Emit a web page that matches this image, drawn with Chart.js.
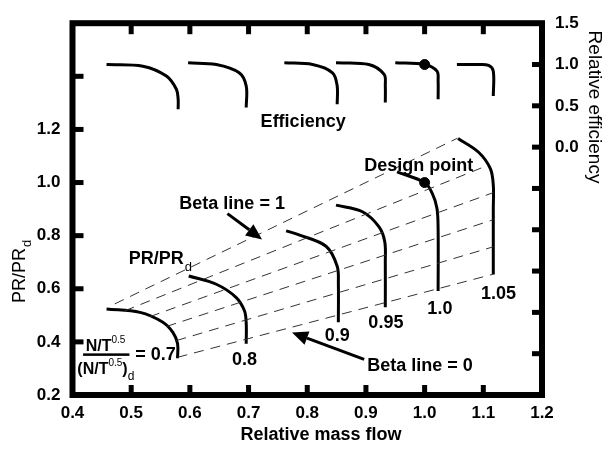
<!DOCTYPE html>
<html>
<head>
<meta charset="utf-8">
<script src="https://cdn.jsdelivr.net/npm/chart.js@4.4.0/dist/chart.umd.min.js"></script>
<style>
  html, body { margin: 0; padding: 0; background: #fff; }
  #wrap { width: 616px; height: 451px; }
</style>
</head>
<body>
<div id="wrap"><canvas id="map" width="616" height="451"></canvas></div>
<script>
// relative corrected speed of each speed line
const speedLabels = ["0.7", "0.8", "0.9", "0.95", "1.0", "1.05"];

// PR/PRd speed lines (x = relative mass flow)
const prFlow = [
  [0.458, 0.515, 0.554, 0.571, 0.579, 0.579],
  [0.598, 0.645, 0.679, 0.693, 0.696, 0.696],
  [0.764, 0.786, 0.832, 0.851, 0.853, 0.853],
  [0.849, 0.894, 0.922, 0.932, 0.933, 0.933],
  [0.953, 1.000, 1.013, 1.021, 1.023, 1.023],
  [1.057, 1.092, 1.112, 1.117, 1.117, 1.117],
];
const prRatio = [
  [0.524, 0.511, 0.474, 0.436, 0.394, 0.338],
  [0.648, 0.617, 0.567, 0.517, 0.470, 0.393],
  [0.818, 0.803, 0.760, 0.685, 0.620, 0.474],
  [0.915, 0.890, 0.834, 0.778, 0.700, 0.530],
  [1.040, 1.000, 0.959, 0.903, 0.820, 0.592],
  [1.166, 1.114, 1.052, 0.990, 0.900, 0.654],
];

// relative efficiency lines (right axis)
const effFlow = [
  [0.458, 0.520, 0.560, 0.577, 0.580, 0.580],
  [0.597, 0.645, 0.684, 0.696, 0.696],
  [0.761, 0.809, 0.843, 0.851, 0.851],
  [0.849, 0.905, 0.931, 0.933, 0.933],
  [0.950, 1.000, 1.021, 1.023, 1.023],
  [1.055, 1.090, 1.109, 1.117, 1.117],
];
const effValue = [
  [1.00, 0.98, 0.86, 0.70, 0.58, 0.46],
  [1.02, 1.00, 0.90, 0.74, 0.48],
  [1.02, 1.00, 0.90, 0.74, 0.52],
  [1.02, 1.00, 0.88, 0.74, 0.54],
  [1.02, 1.00, 0.92, 0.80, 0.58],
  [1.00, 1.00, 0.99, 0.92, 0.62],
];

// beta lines (dashed) from beta = 1 down to beta = 0, start and end points
const betaFlow = [
  [0.472, 1.056],
  [0.489, 1.108],
  [0.532, 1.117],
  [0.560, 1.117],
  [0.577, 1.117],
  [0.579, 1.117],
];
const betaRatio = [
  [0.543, 1.167],
  [0.517, 1.065],
  [0.495, 0.962],
  [0.458, 0.860],
  [0.405, 0.758],
  [0.342, 0.655],
];

const designFlow = 1.0, designPR = 1.0, designEff = 1.0;

const xTicks = [0.5, 0.6, 0.7, 0.8, 0.9, 1.0, 1.1];
const yTicks = [0.4, 0.6, 0.8, 1.0, 1.2, 1.4];
const y2Ticks = [1.0, 0.5, 0.0, -0.5, -1.0, -1.5, -2.0, -2.5];

const pts = (xs, ys) => xs.map((x, i) => ({ x: x, y: ys[i] }));

const datasets = [];
betaRatio.forEach((ys, i) => {
  datasets.push({
    data: pts(betaFlow[i], ys), yAxisID: "y", showLine: true,
    borderColor: "#333", borderWidth: 1, borderDash: [10, 7],
    pointRadius: 0, tension: 0,
  });
});
prRatio.forEach((ys, i) => {
  datasets.push({
    data: pts(prFlow[i], ys), yAxisID: "y", showLine: true,
    borderColor: "#000", borderWidth: 3, pointRadius: 0, tension: 0.35,
  });
});
effValue.forEach((ys, i) => {
  datasets.push({
    data: pts(effFlow[i], ys), yAxisID: "y2", showLine: true,
    borderColor: "#000", borderWidth: 3, pointRadius: 0, tension: 0.35,
  });
});
datasets.push({ data: [{ x: designFlow, y: designPR }], yAxisID: "y",
  pointRadius: 5, backgroundColor: "#000", borderColor: "#000" });
datasets.push({ data: [{ x: designFlow, y: designEff }], yAxisID: "y2",
  pointRadius: 5, backgroundColor: "#000", borderColor: "#000" });

const tickFont = { family: "'Liberation Sans', Arial, sans-serif", size: 17, weight: "bold" };
const BOLD = "bold 18px 'Liberation Sans', Arial, sans-serif";

// frame, inward tick marks and all the labels drawn onto the plot
const decorations = {
  id: "decorations",
  afterDraw(chart) {
    const { ctx, chartArea: a, scales } = chart;
    const X = (v) => scales.x.getPixelForValue(v);
    const Y = (v) => scales.y.getPixelForValue(v);
    const Y2 = (v) => scales.y2.getPixelForValue(v);
    ctx.save();
    ctx.fillStyle = "#000";
    ctx.strokeStyle = "#000";
    ctx.lineWidth = 6;
    ctx.strokeRect(a.left, a.top, a.right - a.left, a.bottom - a.top);

    xTicks.forEach((v) => {
      ctx.fillRect(X(v) - 2.5, a.bottom - 10, 5, 10);
      ctx.fillRect(X(v) - 2.5, a.top, 5, 11);
    });
    yTicks.forEach((v) => ctx.fillRect(a.left, Y(v) - 2.5, 11, 5));
    y2Ticks.forEach((v) => ctx.fillRect(a.right - 10, Y2(v) - 2.5, 10, 5));

    const text = (s, x, y, font, align) => {
      ctx.font = font;
      ctx.textAlign = align || "center";
      ctx.textBaseline = "alphabetic";
      ctx.fillText(s, x, y);
    };

    text("Efficiency", X(0.793), Y(1.210), BOLD);
    text("Design point", X(0.990), Y(1.043), BOLD);
    text("Beta line = 1", X(0.672), Y(0.902), BOLD);
    text("Beta line = 0", X(0.992), Y(0.290), BOLD);

    // PR/PRd label on plot
    text("PR/PR", X(0.496), Y(0.695), BOLD, "left");
    ctx.font = BOLD;
    const w = ctx.measureText("PR/PR").width;
    text("d", X(0.496) + w + 1, Y(0.695) + 7, "13px 'Liberation Sans', Arial, sans-serif", "left");

    // speed labels
    const sp = [[0.693, 0.312], [0.851, 0.405], [0.934, 0.454], [1.026, 0.506], [1.126, 0.562]];
    sp.forEach((p, i) => text(speedLabels[i + 1], X(p[0]), Y(p[1]), BOLD));

    // fraction N/T^0.5 / (N/T^0.5)d = 0.7
    const F = "bold 16px 'Liberation Sans', Arial, sans-serif";
    const S = "10px 'Liberation Sans', Arial, sans-serif";
    const cx = X(0.4562), barY = Y(0.353);
    ctx.font = F;
    const wn = ctx.measureText("N/T").width;
    ctx.font = S;
    const ws = ctx.measureText("0.5").width;
    let x0 = cx - (wn + ws) / 2;
    text("N/T", x0, barY - 3, F, "left");
    text("0.5", x0 + wn, barY - 11, S, "left");
    ctx.fillRect(X(0.418), barY - 1, X(0.497) - X(0.418), 2.5);
    ctx.font = F;
    const wd = ctx.measureText("(N/T").width;
    const wp = ctx.measureText(")").width;
    x0 = cx - (wd + ws + wp + 6) / 2;
    text("(N/T", x0, barY + 20, F, "left");
    text("0.5", x0 + wd, barY + 12, S, "left");
    text(")", x0 + wd + ws, barY + 20, F, "left");
    text("d", x0 + wd + ws + wp, barY + 26, "12px 'Liberation Sans', Arial, sans-serif", "left");
    text("= " + speedLabels[0], X(0.5068), barY + 6, BOLD, "left");

    // arrows
    const arrow = (x1, y1, x2, y2) => {
      const p1 = [X(x1), Y(y1)], p2 = [X(x2), Y(y2)];
      const ang = Math.atan2(p2[1] - p1[1], p2[0] - p1[0]);
      const L = 16, hw = 7;
      const bx = p2[0] - L * Math.cos(ang), by = p2[1] - L * Math.sin(ang);
      ctx.lineWidth = 3;
      ctx.beginPath();
      ctx.moveTo(p1[0], p1[1]);
      ctx.lineTo(bx, by);
      ctx.stroke();
      ctx.beginPath();
      ctx.moveTo(p2[0], p2[1]);
      ctx.lineTo(bx + hw * Math.sin(ang), by - hw * Math.cos(ang));
      ctx.lineTo(bx - hw * Math.sin(ang), by + hw * Math.cos(ang));
      ctx.closePath();
      ctx.fill();
    };
    arrow(0.664, 0.883, 0.723, 0.786);
    arrow(0.897, 0.334, 0.774, 0.435);

    // axis titles
    text("Relative mass flow", 321, 440, BOLD);
    ctx.save();
    ctx.translate(25, 303);
    ctx.rotate(-Math.PI / 2);
    text("PR/PR", 0, 0, "18px 'Liberation Sans', Arial, sans-serif", "left");
    ctx.font = "18px 'Liberation Sans', Arial, sans-serif";
    const wt = ctx.measureText("PR/PR").width;
    text("d", wt + 1, 6, "13px 'Liberation Sans', Arial, sans-serif", "left");
    ctx.restore();
    ctx.save();
    ctx.translate(589, 107);
    ctx.rotate(Math.PI / 2);
    text("Relative efficiency", 0, 0, "19px 'Liberation Sans', Arial, sans-serif", "center");
    ctx.restore();
    ctx.restore();
  },
};

new Chart(document.getElementById("map").getContext("2d"), {
  type: "scatter",
  data: { datasets: datasets },
  options: {
    responsive: false,
    animation: false,
    devicePixelRatio: 1,
    layout: { padding: { top: 20, left: 0, right: 0, bottom: 0 } },
    plugins: { legend: { display: false }, tooltip: { enabled: false } },
    scales: {
      x: {
        type: "linear", position: "bottom", min: 0.4, max: 1.2,
        grid: { display: false, drawTicks: false }, border: { display: false },
        ticks: { stepSize: 0.1, color: "#000", font: tickFont, padding: 8,
          maxRotation: 0, autoSkip: false, callback: (v) => v.toFixed(1) },
        afterFit: (s) => { s.height = 56; },
      },
      y: {
        type: "linear", position: "left", min: 0.2, max: 1.6,
        grid: { display: false, drawTicks: false }, border: { display: false },
        ticks: { stepSize: 0.2, color: "#000", font: tickFont, padding: 12,
          callback: (v) => (v <= 1.21 ? v.toFixed(1) : "") },
        afterFit: (s) => { s.width = 72.5; },
      },
      y2: {
        type: "linear", position: "right", min: -3, max: 1.5,
        grid: { display: false, drawTicks: false }, border: { display: false },
        ticks: { stepSize: 0.5, color: "#000", font: tickFont, padding: 13,
          callback: (v) => (v >= -0.01 ? Math.abs(v).toFixed(1) : "") },
        afterFit: (s) => { s.width = 74; },
      },
    },
  },
  plugins: [decorations],
});
</script>
</body>
</html>
